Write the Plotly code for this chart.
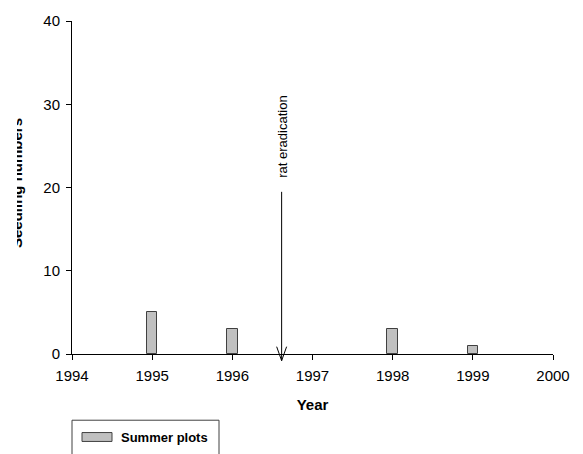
import plotly.graph_objects as go

# ---- data ----
years = [1995, 1996, 1998, 1999]
summer_plots = [5, 3, 3, 1]
x_ticks = [1994, 1995, 1996, 1997, 1998, 1999, 2000]
y_ticks = [0, 10, 20, 30, 40]
series_name = "Summer plots"
event_label = "rat eradication"
event_year = 1996.615

FONT = "Liberation Sans, Arial, sans-serif"

fig = go.Figure()
fig.add_trace(go.Bar(
    x=years, y=summer_plots, name=series_name, width=0.13,
    marker=dict(color="#c0c0c0", line=dict(color="#404040", width=1)),
    showlegend=False,
))

fig.update_layout(
    width=583, height=454,
    margin=dict(l=72, r=30, t=17, b=100),
    paper_bgcolor="white", plot_bgcolor="white",
    font=dict(family=FONT, size=15, color="black"),
    bargap=0,
    xaxis=dict(
        range=[1994, 2000], tickvals=x_ticks, ticktext=[str(v) for v in x_ticks],
        showline=True, linecolor="black", linewidth=1,
        ticks="outside", ticklen=5, tickcolor="black", showgrid=False, zeroline=False,
        tickfont=dict(size=15), ticklabelstandoff=3,
        title=dict(text="<b>Year</b>", font=dict(size=15), standoff=16),
    ),
    yaxis=dict(
        range=[0, 40], tickvals=y_ticks,
        showline=True, linecolor="black", linewidth=1,
        ticks="outside", ticklen=5, tickcolor="black", showgrid=False, zeroline=False,
        tickfont=dict(size=15), ticklabelstandoff=3,
    ),
)

# y-axis title (partially clipped on the left as in the reference)
fig.add_annotation(
    text="<b>Seedling numbers</b>", textangle=-90,
    xref="paper", yref="paper", x=(16 - 72) / 481, y=(354 - 181) / 337,
    xanchor="center", yanchor="middle", showarrow=False, font=dict(size=15),
)
fig.add_annotation(
    text=" ", xref="paper", yref="paper", x=(0 - 72) / 481, y=(354 - 181) / 337,
    xanchor="left", yanchor="middle", showarrow=False, width=17, height=160,
    borderpad=0, borderwidth=0, bgcolor="white",
)

# eradication arrow
line_style = dict(color="black", width=1)
fig.add_shape(type="line", xref="x", yref="paper", x0=event_year, x1=event_year,
              y0=0.487, y1=-0.02, line=line_style)
fig.add_shape(type="line", xref="x", yref="paper", x0=event_year - 0.062, x1=event_year,
              y0=0.022, y1=-0.02, line=line_style)
fig.add_shape(type="line", xref="x", yref="paper", x0=event_year + 0.062, x1=event_year,
              y0=0.022, y1=-0.02, line=line_style)
fig.add_annotation(
    text=event_label, textangle=-90, xref="x", yref="paper",
    x=event_year, y=(354 - 134.5) / 337, xanchor="center", yanchor="middle",
    showarrow=False, font=dict(size=13),
)

# legend box
fig.add_shape(type="rect", xref="paper", yref="paper", x0=0, x1=(219 - 72) / 481,
              y0=-0.35, y1=(354 - 421) / 337, line=dict(color="#404040", width=1),
              fillcolor="white")
fig.add_shape(type="rect", xref="paper", yref="paper", x0=(82 - 72) / 481, x1=(112 - 72) / 481,
              y0=(354 - 442.5) / 337, y1=(354 - 433.5) / 337,
              line=dict(color="#404040", width=1), fillcolor="#c0c0c0")
fig.add_annotation(
    text="<b>" + series_name + "</b>", xref="paper", yref="paper",
    x=(119 - 72) / 481, y=(354 - 438) / 337, xanchor="left", yanchor="middle",
    showarrow=False, font=dict(size=13),
)

fig.write_html("out.html", config={"displayModeBar": False},
               post_script="document.body.style.margin='0';document.body.style.overflow='hidden';")
